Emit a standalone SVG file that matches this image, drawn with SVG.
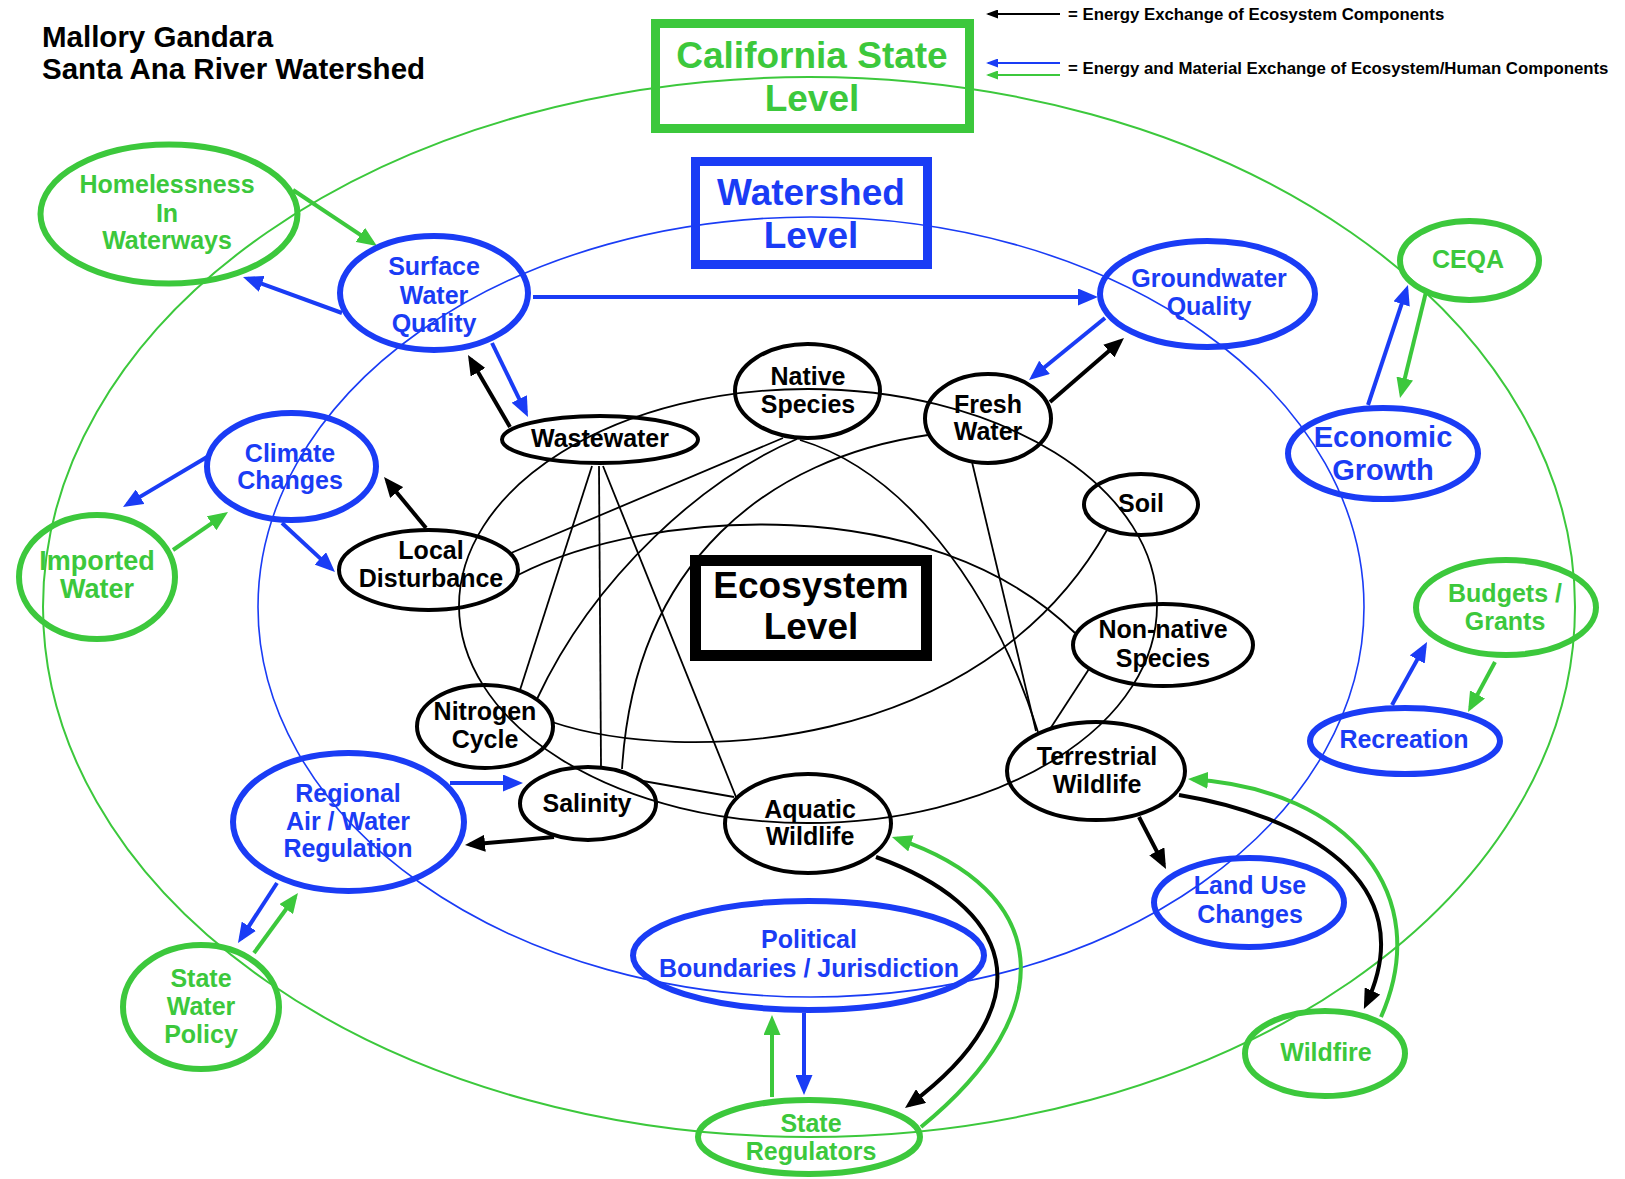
<svg xmlns="http://www.w3.org/2000/svg" width="1625" height="1179" viewBox="0 0 1625 1179">
<style>
.t{font-family:"Liberation Sans",Arial,Helvetica,sans-serif;font-weight:bold;text-anchor:middle}
.s{font-size:25px}
.k{fill:#000}.b{fill:#1a3cf5}.g{fill:#3cc83c}
.ng{fill:none;stroke:#3cc83c;stroke-width:6}
.nb{fill:none;stroke:#1a3cf5;stroke-width:6}
.nk{fill:none;stroke:#000;stroke-width:4}
.lk{fill:none;stroke:#000;stroke-width:1.8}
.ak{fill:none;stroke:#000;stroke-width:4;marker-end:url(#mk)}
.ab{fill:none;stroke:#1a3cf5;stroke-width:4;marker-end:url(#mb)}
.ag{fill:none;stroke:#3cc83c;stroke-width:4;marker-end:url(#mg)}
.hd{font-family:"Liberation Sans",Arial,Helvetica,sans-serif;font-weight:bold;font-size:29.5px;fill:#000}
.lg{font-family:"Liberation Sans",Arial,Helvetica,sans-serif;font-weight:bold;font-size:16.8px;fill:#000}
</style>
<defs>
<marker id="mk" markerWidth="20" markerHeight="17" refX="15" refY="8.5" orient="auto" markerUnits="userSpaceOnUse"><path d="M0,0 L20,8.5 L0,17 z" fill="#000"/></marker>
<marker id="mb" markerWidth="20" markerHeight="17" refX="15" refY="8.5" orient="auto" markerUnits="userSpaceOnUse"><path d="M0,0 L20,8.5 L0,17 z" fill="#1a3cf5"/></marker>
<marker id="mg" markerWidth="20" markerHeight="17" refX="15" refY="8.5" orient="auto" markerUnits="userSpaceOnUse"><path d="M0,0 L20,8.5 L0,17 z" fill="#3cc83c"/></marker>
<marker id="sk" markerWidth="12" markerHeight="9" refX="10" refY="4.5" orient="auto" markerUnits="userSpaceOnUse"><path d="M0,0 L12,4.5 L0,9 z" fill="#000"/></marker>
<marker id="sb" markerWidth="12" markerHeight="9" refX="10" refY="4.5" orient="auto" markerUnits="userSpaceOnUse"><path d="M0,0 L12,4.5 L0,9 z" fill="#1a3cf5"/></marker>
<marker id="sg" markerWidth="12" markerHeight="9" refX="10" refY="4.5" orient="auto" markerUnits="userSpaceOnUse"><path d="M0,0 L12,4.5 L0,9 z" fill="#3cc83c"/></marker>
</defs>
<rect width="1625" height="1179" fill="#fff"/>

<g id="levels">
<ellipse cx="809" cy="607" rx="766" ry="530" fill="none" stroke="#3cc83c" stroke-width="2"/>
<ellipse cx="811" cy="607" rx="553" ry="390" fill="none" stroke="#1a3cf5" stroke-width="1.6"/>
<ellipse cx="808" cy="606" rx="349" ry="217" fill="none" stroke="#000" stroke-width="1.8"/>
</g>

<g id="title">
<text class="hd" x="42" y="47">Mallory Gandara</text>
<text class="hd" x="42" y="79">Santa Ana River Watershed</text>
</g>

<g id="legend">
<line x1="1060" y1="14" x2="988" y2="14" stroke="#000" stroke-width="2" marker-end="url(#sk)"/>
<line x1="1060" y1="63" x2="988" y2="63" stroke="#1a3cf5" stroke-width="2" marker-end="url(#sb)"/>
<line x1="1060" y1="75" x2="988" y2="75" stroke="#3cc83c" stroke-width="2" marker-end="url(#sg)"/>
<text class="lg" x="1068" y="20">= Energy Exchange of Ecosystem Components</text>
<text class="lg" x="1068" y="74">= Energy and Material Exchange of Ecosystem/Human Components</text>
</g>

<g id="level-state">
<rect x="655.5" y="23.5" width="314" height="105" fill="none" stroke="#3cc83c" stroke-width="9"/>
<text class="t g" x="812" y="68" font-size="37">California State</text>
<text class="t g" x="812" y="111" font-size="37">Level</text>
</g>
<g id="level-watershed">
<rect x="695.5" y="161.5" width="232" height="103" fill="none" stroke="#1a3cf5" stroke-width="9"/>
<text class="t b" x="811" y="205" font-size="37">Watershed</text>
<text class="t b" x="811" y="248" font-size="37">Level</text>
</g>
<g id="level-ecosystem">
<rect x="695.5" y="560.5" width="231" height="95" fill="none" stroke="#000" stroke-width="11"/>
<text class="t k" x="811" y="598" font-size="37">Ecosystem</text>
<text class="t k" x="811" y="639" font-size="37">Level</text>
</g>

<g id="connectors">
<path class="lk" d="M592 466 L520 690"/>
<path class="lk" d="M599 466 L601 766"/>
<path class="lk" d="M603 466 L736 797"/>
<path class="lk" d="M643 781 L734 797"/>
<path class="lk" d="M797 439 C705 478 595 575 537 699"/>
<path class="lk" d="M928 435 C770 458 635 560 622 769"/>
<path class="lk" d="M511 553 L783 438"/>
<path class="lk" d="M518 575 C650 508 930 490 1075 633"/>
<path class="lk" d="M552 722 C680 765 980 755 1107 530"/>
<path class="lk" d="M800 440 C900 470 990 580 1038 732"/>
<path class="lk" d="M972 462 L1036 731"/>
<path class="lk" d="M1089 669 L1050 729"/>

<path class="ag" d="M293 190 L372.8 243.2"/>
<path class="ab" d="M342 313 L247.7 278.7"/>
<path class="ab" d="M533 297 L1093 297"/>
<path class="ab" d="M492 343 L525.8 412.5"/>
<path class="ak" d="M510 427 L470.5 359.3"/>
<path class="ab" d="M1105 318 L1032.9 376.8"/>
<path class="ak" d="M1050 402 L1120.2 341.3"/>
<path class="ab" d="M1368 405 L1406.4 289.7"/>
<path class="ag" d="M1426 292 L1401.2 393.1"/>
<path class="ab" d="M207 457 L127.3 504.4"/>
<path class="ag" d="M173 550 L223.9 514.8"/>
<path class="ab" d="M282 523 L331.3 568.6"/>
<path class="ak" d="M426 528 L387.2 480.9"/>
<path class="ab" d="M1392 705 L1424.6 646.4"/>
<path class="ag" d="M1495 662 L1470.4 707.6"/>
<path class="ab" d="M450 783 L518 783"/>
<path class="ak" d="M554 837 L470 844.6"/>
<path class="ab" d="M277 883 L240.7 938.8"/>
<path class="ag" d="M254 953 L295 897"/>
<path class="ab" d="M804 1013 L804 1090"/>
<path class="ag" d="M772 1097 L772 1020"/>
<path class="ak" d="M1139 817 L1163.7 864.6"/>
<path class="ak" d="M876 857 C1010 905 1050 1000 909 1105"/>
<path class="ag" d="M921 1127 C1065 1010 1050 890 896.7 838.6"/>
<path class="ak" d="M1179 795 C1300 815 1425 880 1366 1004.5"/>
<path class="ag" d="M1381 1017 C1435 895 1350 790 1193 779.3"/>
</g>

<g id="homelessness"><ellipse class="ng" cx="169" cy="214" rx="128.5" ry="69.5"/>
<text class="t g s" x="167" y="193">Homelessness</text><text class="t g s" x="167" y="222">In</text><text class="t g s" x="167" y="249">Waterways</text></g>
<g id="surface-water-quality"><ellipse class="nb" cx="434" cy="293" rx="94" ry="57"/>
<text class="t b s" x="434" y="275">Surface</text><text class="t b s" x="434" y="304">Water</text><text class="t b s" x="434" y="332">Quality</text></g>
<g id="groundwater-quality"><ellipse class="nb" cx="1207.5" cy="294" rx="107.5" ry="53"/>
<text class="t b s" x="1209" y="287">Groundwater</text><text class="t b s" x="1209" y="315">Quality</text></g>
<g id="ceqa"><ellipse class="ng" cx="1469.5" cy="260.5" rx="69.5" ry="39.5"/>
<text class="t g s" x="1468" y="268">CEQA</text></g>
<g id="native-species"><ellipse class="nk" cx="807.5" cy="391" rx="72.5" ry="47"/>
<text class="t k s" x="808" y="385">Native</text><text class="t k s" x="808" y="413">Species</text></g>
<g id="fresh-water"><ellipse class="nk" cx="988" cy="418.5" rx="63" ry="44.5"/>
<text class="t k s" x="988" y="413">Fresh</text><text class="t k s" x="988" y="440">Water</text></g>
<g id="wastewater"><ellipse class="nk" cx="600" cy="439.5" rx="98" ry="23.5"/>
<text class="t k s" x="600" y="447">Wastewater</text></g>
<g id="climate-changes"><ellipse class="nb" cx="291.5" cy="466.5" rx="84.5" ry="53.5"/>
<text class="t b s" x="290" y="462">Climate</text><text class="t b s" x="290" y="489">Changes</text></g>
<g id="economic-growth"><ellipse class="nb" cx="1383" cy="453.5" rx="95" ry="45.5"/>
<text class="t b" x="1383" y="447" font-size="29">Economic</text><text class="t b" x="1383" y="480" font-size="29">Growth</text></g>
<g id="soil"><ellipse class="nk" cx="1141" cy="504.5" rx="57" ry="30.5"/>
<text class="t k s" x="1141" y="512">Soil</text></g>
<g id="imported-water"><ellipse class="ng" cx="97" cy="577" rx="78" ry="62"/>
<text class="t g" x="97" y="570" font-size="27">Imported</text><text class="t g" x="97" y="598" font-size="27">Water</text></g>
<g id="local-disturbance"><ellipse class="nk" cx="428.5" cy="570" rx="89.5" ry="40"/>
<text class="t k s" x="431" y="559">Local</text><text class="t k s" x="431" y="587">Disturbance</text></g>
<g id="budgets-grants"><ellipse class="ng" cx="1506" cy="607.5" rx="90" ry="47.5"/>
<text class="t g s" x="1505" y="602">Budgets /</text><text class="t g s" x="1505" y="630">Grants</text></g>
<g id="non-native-species"><ellipse class="nk" cx="1163" cy="645" rx="90" ry="41"/>
<text class="t k s" x="1163" y="638">Non-native</text><text class="t k s" x="1163" y="667">Species</text></g>
<g id="nitrogen-cycle"><ellipse class="nk" cx="485" cy="726.5" rx="68" ry="41.5"/>
<text class="t k s" x="485" y="720">Nitrogen</text><text class="t k s" x="485" y="748">Cycle</text></g>
<g id="recreation"><ellipse class="nb" cx="1405" cy="741" rx="95" ry="33"/>
<text class="t b s" x="1404" y="748">Recreation</text></g>
<g id="terrestrial-wildlife"><ellipse class="nk" cx="1096" cy="771" rx="89" ry="49"/>
<text class="t k s" x="1097" y="765">Terrestrial</text><text class="t k s" x="1097" y="793">Wildlife</text></g>
<g id="regional-regulation"><ellipse class="nb" cx="348.5" cy="822" rx="115.5" ry="69"/>
<text class="t b s" x="348" y="802">Regional</text><text class="t b s" x="348" y="830">Air / Water</text><text class="t b s" x="348" y="857">Regulation</text></g>
<g id="salinity"><ellipse class="nk" cx="588" cy="803.5" rx="68" ry="36.5"/>
<text class="t k s" x="587" y="812">Salinity</text></g>
<g id="aquatic-wildlife"><ellipse class="nk" cx="808" cy="823.5" rx="83" ry="49.5"/>
<text class="t k s" x="810" y="818">Aquatic</text><text class="t k s" x="810" y="845">Wildlife</text></g>
<g id="land-use-changes"><ellipse class="nb" cx="1249" cy="902.5" rx="95" ry="44.5"/>
<text class="t b s" x="1250" y="894">Land Use</text><text class="t b s" x="1250" y="923">Changes</text></g>
<g id="political-boundaries"><ellipse class="nb" cx="808.5" cy="955.5" rx="175.5" ry="54.5"/>
<text class="t b s" x="809" y="948">Political</text><text class="t b s" x="809" y="977">Boundaries / Jurisdiction</text></g>
<g id="state-water-policy"><ellipse class="ng" cx="201" cy="1007" rx="78" ry="62"/>
<text class="t g s" x="201" y="987">State</text><text class="t g s" x="201" y="1015">Water</text><text class="t g s" x="201" y="1043">Policy</text></g>
<g id="wildfire"><ellipse class="ng" cx="1325" cy="1053.5" rx="80" ry="42.5"/>
<text class="t g s" x="1326" y="1061">Wildfire</text></g>
<g id="state-regulators"><ellipse class="ng" cx="809" cy="1137" rx="111" ry="37"/>
<text class="t g s" x="811" y="1132">State</text><text class="t g s" x="811" y="1160">Regulators</text></g>
</svg>
